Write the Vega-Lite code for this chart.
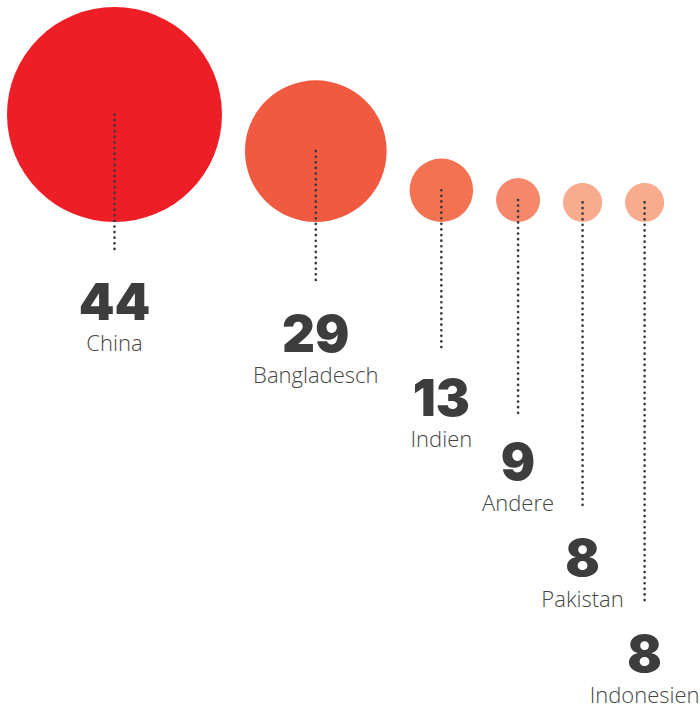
{
  "$schema": "https://vega.github.io/schema/vega-lite/v6.json",
  "width": 700,
  "height": 704,
  "autosize": {"type": "none"},
  "padding": 0,
  "background": "white",
  "config": {"view": {"stroke": null}},
  "data": {"values": [
    {"country": "China", "value": 44, "tier": 0},
    {"country": "Bangladesch", "value": 29, "tier": 1},
    {"country": "Indien", "value": 13, "tier": 3},
    {"country": "Andere", "value": 9, "tier": 5},
    {"country": "Pakistan", "value": 8, "tier": 8},
    {"country": "Indonesien", "value": 8, "tier": 11}
  ]},
  "transform": [
    {"window": [{"op": "sum", "field": "value", "as": "cum"}, {"op": "row_number", "as": "idx"}], "sort": [{"field": "tier", "order": "ascending"}], "frame": [null, 0]},
    {"calculate": "2*datum.cum - datum.value + 9.4*(datum.idx-1)", "as": "cx"},
    {"calculate": "-40.11 - 13.099*datum.tier", "as": "labelY"},
    {"calculate": "-12.69 - 13.099*datum.tier", "as": "lineEnd"}
  ],
  "encoding": {
    "x": {"field": "cx", "type": "quantitative", "scale": {"domain": [-2.865, 283.67], "nice": false, "zero": false}, "axis": null}
  },
  "layer": [
    {
      "mark": {"type": "circle", "opacity": 1},
      "encoding": {
        "y": {"field": "value", "type": "quantitative", "scale": {"domain": [-197.3, 90.87], "nice": false, "zero": false}, "axis": null},
        "size": {"field": "value", "type": "quantitative", "scale": {"type": "pow", "exponent": 2, "domain": [0, 44], "range": [0, 46225]}, "legend": null},
        "color": {"field": "country", "type": "nominal", "scale": {"domain": ["China", "Bangladesch", "Indien", "Andere", "Pakistan", "Indonesien"], "range": ["#ED1E26", "#F05A40", "#F27252", "#F5886B", "#F9AB8E", "#F9AB8E"]}, "legend": null}
      }
    },
    {
      "mark": {"type": "rule", "strokeDash": [0, 5.6], "strokeCap": "round", "strokeWidth": 2.7, "color": "#3a3a3a"},
      "encoding": {
        "y": {"field": "value", "type": "quantitative", "scale": {"domain": [-197.3, 90.87], "nice": false, "zero": false}, "axis": null},
        "y2": {"field": "lineEnd"}
      }
    },
    {
      "mark": {"type": "text", "font": "Inter", "fontWeight": 900, "fontSize": 51, "color": "#3d3d3d", "baseline": "alphabetic", "align": "center"},
      "encoding": {
        "y": {"field": "labelY", "type": "quantitative", "scale": {"domain": [-197.3, 90.87], "nice": false, "zero": false}, "axis": null},
        "text": {"field": "value", "type": "quantitative"}
      }
    },
    {
      "mark": {"type": "text", "font": "Open Sans", "fontWeight": 300, "fontSize": 22, "color": "#454545", "baseline": "alphabetic", "align": "center", "dy": 31},
      "encoding": {
        "y": {"field": "labelY", "type": "quantitative", "scale": {"domain": [-197.3, 90.87], "nice": false, "zero": false}, "axis": null},
        "text": {"field": "country", "type": "nominal"}
      }
    }
  ]
}
